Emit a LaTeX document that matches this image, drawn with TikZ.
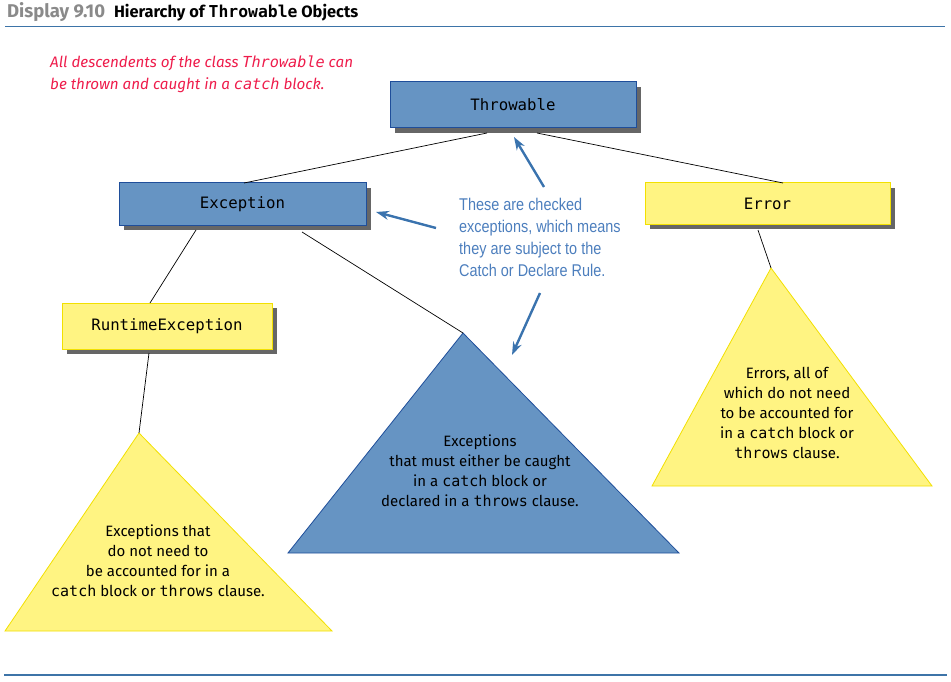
\documentclass[tikz,border=0pt]{standalone}
\usepackage{fontspec}
\setmainfont{Fira Sans}
\setmonofont{DejaVu Sans Mono}
\newfontfamily\condfont[FakeStretch=0.85]{Liberation Sans}
\usetikzlibrary{shadows,arrows.meta}
\definecolor{boxblue}{HTML}{6694C3}
\definecolor{boxblueedge}{HTML}{1F4E9A}
\definecolor{boxyellow}{HTML}{FFF482}
\definecolor{boxyellowedge}{HTML}{F2E000}
\definecolor{shadowgray}{HTML}{666666}
\definecolor{noteblue}{HTML}{4C7EBD}
\definecolor{arrowblue}{HTML}{3A73AE}
\definecolor{notered}{HTML}{EE1C4B}
\definecolor{rulecolor}{HTML}{3D74A8}
\definecolor{titlegray}{HTML}{8A8A8A}
\tikzset{
  classbox/.style={draw, line width=1pt, minimum height=44pt, inner sep=0pt,
    font=\ttfamily\fontsize{15.7}{18}\selectfont,
    drop shadow={shadow xshift=5pt, shadow yshift=-5pt, fill=shadowgray, opacity=1}},
  bluebox/.style={classbox, fill=boxblue, draw=boxblueedge},
  yellowbox/.style={classbox, fill=boxyellow, draw=boxyellowedge},
  tritext/.style={align=center, font=\fontsize{15}{20}\selectfont, inner sep=0pt},
  link/.style={draw=black, line width=0.7pt},
  pointer/.style={draw=arrowblue, line width=2.4pt, -{Stealth[length=13pt,width=9pt]}},
}
\newcommand{\cw}[1]{{\ttfamily\fontsize{15}{20}\selectfont #1}}
\begin{document}
\begin{tikzpicture}[x=1pt,y=-1pt]
\useasboundingbox (0,0) rectangle (951,682);

% title and rules
\node[anchor=base west, inner sep=0pt, font=\bfseries\fontsize{16.4}{19}\selectfont] (title) at (7,17.5)
  {\textcolor{titlegray}{\fontsize{18.5}{19}\selectfont Display 9.10}\hspace{9pt}Hierarchy of {\ttfamily Throwable} Objects};
\coordinate (t1) at (5,26.5);
\coordinate (t2) at (945,26.5);
\draw[rulecolor, line width=1.4pt] (t1) -- (t2);
\coordinate (b1) at (4,675);
\coordinate (b2) at (947,675);
\draw[rulecolor, line width=1.4pt] (b1) -- (b2);

% red note
\node[anchor=base west, inner sep=0pt, align=left, text=notered,
      font=\itshape\fontsize{15.2}{22}\selectfont] (rednote) at (50,90)
  {All descendents of the class {\ttfamily\fontsize{15.2}{22}\selectfont Throwable} can\\
   be thrown and caught in a {\ttfamily\fontsize{15.2}{22}\selectfont catch} block.};

% class boxes
\node[bluebox, minimum width=246pt, minimum height=46pt] (throw) at (513,105) {Throwable};
\node[bluebox, minimum width=247pt, minimum height=42pt] (exc) at (242.5,204) {Exception};
\node[yellowbox, minimum width=245pt, minimum height=41pt] (err) at (767.5,203.5) {Error};
\node[yellowbox, minimum width=210pt, minimum height=46pt] (rte) at (167,326) {RuntimeException};

% triangles
\coordinate (ltop) at (139,433);
\coordinate (lbl) at (5,631);
\coordinate (lbr) at (332,631);
\fill[boxyellow] (ltop) -- (lbl) -- (lbr) -- cycle;
\draw[boxyellowedge, line width=0.8pt] (ltop) -- (lbl) -- (lbr) -- cycle;

\coordinate (mtop) at (463,333);
\coordinate (mbl) at (288,553);
\coordinate (mbr) at (679,553);
\fill[boxblue] (mtop) -- (mbl) -- (mbr) -- cycle;
\draw[boxblueedge, line width=0.8pt] (mtop) -- (mbl) -- (mbr) -- cycle;

\coordinate (rtop) at (771,268);
\coordinate (rbl) at (652,486);
\coordinate (rbr) at (932,486);
\fill[boxyellow] (rtop) -- (rbl) -- (rbr) -- cycle;
\draw[boxyellowedge, line width=0.8pt] (rtop) -- (rbl) -- (rbr) -- cycle;

\node[tritext] (ltext) at (158,561)
  {Exceptions that\\ do not need to\\ be accounted for in a\\ \cw{catch} block or \cw{throws} clause.};
\node[tritext] (mtext) at (480,471)
  {Exceptions\\ that must either be caught\\ in a \cw{catch} block or\\ declared in a \cw{throws} clause.};
\node[tritext] (rtext) at (787,413)
  {Errors, all of\\ which do not need\\ to be accounted for\\ in a \cw{catch} block or\\ \cw{throws} clause.};

% connectors
\coordinate (tl) at (487,133);
\coordinate (tr) at (537,133);
\coordinate (etop) at (244,183);
\coordinate (errtop) at (783,183);
\coordinate (eb1) at (196,230);
\coordinate (eb2) at (302,232);
\coordinate (rtetop) at (150,303);
\coordinate (rteb) at (149,353);
\coordinate (errb) at (758,230);
\draw[link] (tl) -- (etop);
\draw[link] (tr) -- (errtop);
\draw[link] (eb1) -- (rtetop);
\draw[link] (eb2) -- (mtop);
\draw[link] (rteb) -- (ltop);
\draw[link] (errb) -- (rtop);

% blue note and pointers
\node[anchor=north west, inner sep=0pt, align=left, text=noteblue,
      font=\condfont\fontsize{17}{22}\selectfont] (bluenote) at (459,198)
  {These are checked\\ exceptions, which means\\ they are subject to the\\ Catch or Declare Rule.};
\coordinate (a1s) at (544,187);
\coordinate (a1e) at (514,137);
\coordinate (a2s) at (436,228);
\coordinate (a2e) at (376,212);
\coordinate (a3s) at (540,293);
\coordinate (a3e) at (512,355);
\draw[pointer] (a1s) -- (a1e);
\draw[pointer] (a2s) -- (a2e);
\draw[pointer] (a3s) -- (a3e);
\end{tikzpicture}
\end{document}
